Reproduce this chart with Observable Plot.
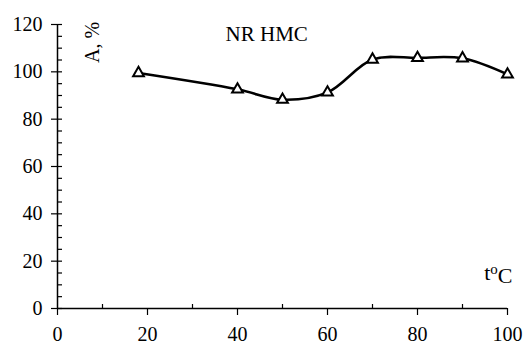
<!DOCTYPE html>
<html>
<head>
<meta charset="utf-8">
<script src="https://cdn.jsdelivr.net/npm/d3@7"></script>
<script src="https://cdn.jsdelivr.net/npm/@observablehq/plot@0.6"></script>
<style>
  html, body { margin: 0; padding: 0; background: #fff; }
  svg { display: block; }
  #chart svg, #chart svg text { font-family: 'Liberation Serif', serif !important; }
</style>
</head>
<body>
<div id="chart"></div>
<script>
// Data
const temperature = [18, 40, 50, 60, 70, 80, 90, 100];
const activity = [99.5, 92.6, 88.2, 91.3, 105.2, 105.9, 105.7, 98.9];
const xTicks = [0, 20, 40, 60, 80, 100];
const xMinorTicks = [10, 30, 50, 70, 90];
const yTicks = [0, 20, 40, 60, 80, 100, 120];
const yMinorTicks = d3.range(0, 121, 5);
const seriesLabel = "NR HMC";
const yLabel = "A, %";
const xLabel = "t°C";

const data = temperature.map((t, i) => ({t, a: activity[i]}));
const serif = "'Liberation Serif', serif";

const plot = Plot.plot({
  width: 526,
  height: 345,
  marginLeft: 57,
  marginRight: 19,
  marginTop: 24,
  marginBottom: 37,
  style: {fontFamily: serif, fontSize: "20px", color: "#000", background: "#fff", overflow: "visible"},
  x: {domain: [0, 100]},
  y: {domain: [0, 120]},
  marks: [
    Plot.axisY({ticks: yMinorTicks, tickSize: -5, text: null, label: null, strokeWidth: 1.2}),
    Plot.axisY({ticks: yTicks, tickSize: 6, tickPadding: 9, strokeWidth: 1.2, label: null, fontSize: 20}),
    Plot.axisX({ticks: xMinorTicks, tickSize: -4, text: null, label: null, strokeWidth: 1.2}),
    Plot.axisX({ticks: xTicks, tickSize: 7, tickPadding: 11, strokeWidth: 1.2, label: null, fontSize: 20}),
    Plot.ruleX([0], {stroke: "#000", strokeWidth: 1.5}),
    Plot.ruleY([0], {stroke: "#000", strokeWidth: 1.5}),
    Plot.line(data, {x: "t", y: "a", curve: "catmull-rom", stroke: "#000", strokeWidth: 2.5}),
    Plot.dot(data, {x: "t", y: "a", symbol: "triangle", r: 4, fill: "#fff", stroke: "#000", strokeWidth: 2}),
    Plot.text([seriesLabel], {x: 46.5, y: 113, text: d => d, fontSize: 21, fill: "#000", lineAnchor: "bottom"}),
    Plot.text([yLabel], {x: 7.8, y: 112.4, text: d => d, rotate: -90, fontSize: 20, fill: "#000"}),
    Plot.text([xLabel], {x: 100, y: 12, dx: 5, text: d => d, textAnchor: "end", lineAnchor: "bottom", fontSize: 22, fill: "#000"})
  ]
});

// Force the serif face on every text element
d3.select(plot).selectAll("text").style("font-family", serif);

// Render the degree "o" as a raised small letter, like the reference
d3.select(plot).selectAll("text").filter(function() { return this.textContent === xLabel; })
  .each(function() {
    const el = d3.select(this);
    el.text(null);
    el.append("tspan").text("t");
    el.append("tspan").attr("dy", "-0.38em").attr("font-size", "0.68em").text("o");
    el.append("tspan").attr("dy", "0.38em").text("C");
  });

document.getElementById("chart").appendChild(plot);
</script>
</body>
</html>
